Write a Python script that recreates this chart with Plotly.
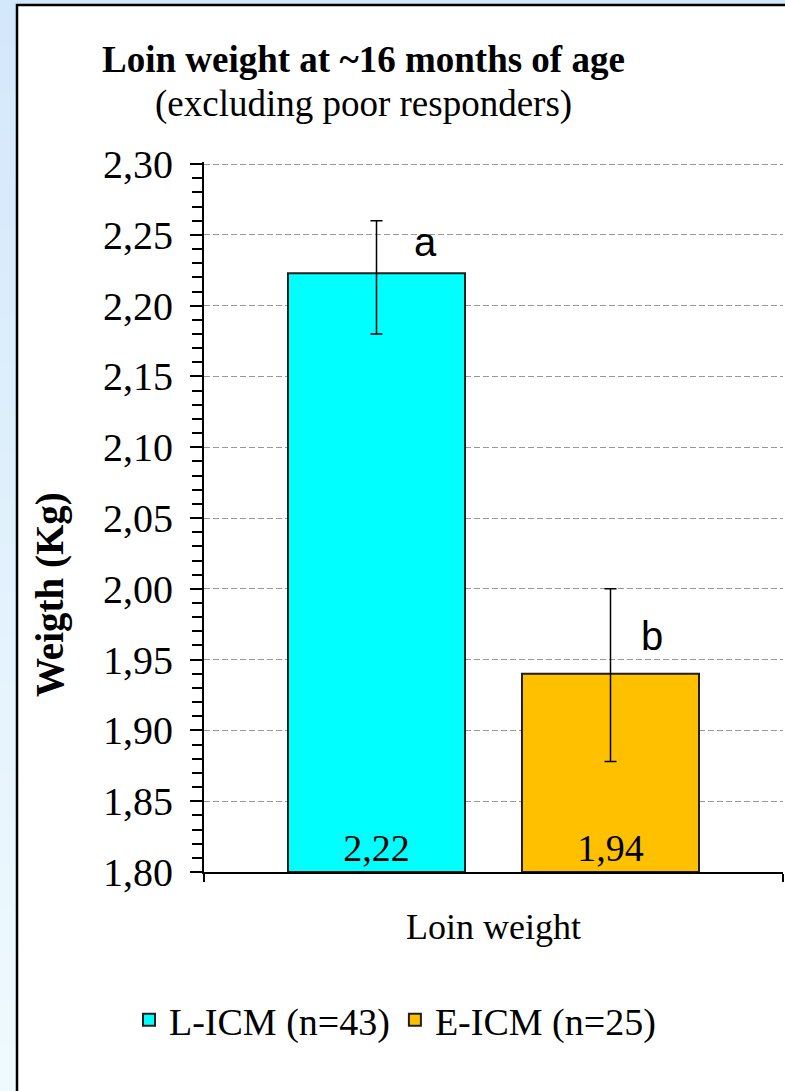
import plotly.graph_objects as go

# ---- data ----
categories = ["Loin weight"]
groups = ["L-ICM (n=43)", "E-ICM (n=25)"]
means_l = [2.223]
means_e = [1.940]
err_plus_l = [0.037]
err_minus_l = [0.043]
err_plus_e = [0.060]
err_minus_e = [0.062]
letters = ["a", "b"]
y_ticks = [1.80, 1.85, 1.90, 1.95, 2.00, 2.05, 2.10, 2.15, 2.20, 2.25, 2.30]
Y_MIN, Y_MAX = 1.80, 2.30
Y_TOP = 2.3015  # tiny headroom so the 2,30 gridline is drawn

SERIF = "Liberation Serif, Times New Roman, serif"
SANS = "Liberation Sans, Arial, sans-serif"

W, H = 785, 1091
L, R, T, B = 204, 2, 162, 219
PW, PH = W - L - R, H - T - B


def px2x(px):
    return (px - L) / PW


def px2y(py):
    return (H - B - py) / PH


def fmt(v):
    return f"{v:.2f}".replace(".", ",")


fig = go.Figure()

# bars start at the axis minimum (as in the original chart)
fig.add_trace(go.Bar(
    name=groups[0], x=categories, y=[v - Y_MIN for v in means_l], base=[Y_MIN] * len(means_l),
    marker=dict(color="#00FFFF", line=dict(color="#1f1f1f", width=2)),
    error_y=dict(type="data", symmetric=False, array=err_plus_l, arrayminus=err_minus_l,
                 color="black", thickness=1.5, width=6),
    text=[fmt(v) for v in means_l], textposition="inside", insidetextanchor="start",
    textfont=dict(family=SERIF, size=38, color="black"), textangle=0,
    hovertext=[fmt(v) for v in means_l], hoverinfo="text+name",
))
fig.add_trace(go.Bar(
    name=groups[1], x=categories, y=[v - Y_MIN for v in means_e], base=[Y_MIN] * len(means_e),
    marker=dict(color="#FFC000", line=dict(color="#1f1f1f", width=2)),
    error_y=dict(type="data", symmetric=False, array=err_plus_e, arrayminus=err_minus_e,
                 color="black", thickness=1.5, width=6),
    text=[fmt(v) for v in means_e], textposition="inside", insidetextanchor="start",
    textfont=dict(family=SERIF, size=38, color="black"), textangle=0,
    hovertext=[fmt(v) for v in means_e], hoverinfo="text+name",
))

# background: light blue gradient frame + white chart box
shapes = []
c0 = (0xD3, 0xE8, 0xFB)
c1 = (0xEF, 0xFA, 0xFE)
nb = 24
for i in range(nb):
    f = i / (nb - 1)
    col = "rgb(%d,%d,%d)" % tuple(round(a + (b - a) * f) for a, b in zip(c0, c1))
    y0 = i * H / nb
    y1 = (i + 1) * H / nb + 1
    shapes.append(dict(type="rect", xref="paper", yref="paper", layer="below",
                       x0=px2x(0), x1=px2x(W), y0=px2y(y1), y1=px2y(y0),
                       fillcolor=col, line=dict(width=0)))
shapes.append(dict(type="rect", xref="paper", yref="paper", layer="below",
                   x0=px2x(17), x1=px2x(W + 10), y0=px2y(H + 10), y1=px2y(5),
                   fillcolor="white", line=dict(color="black", width=2.5)))

annotations = [
    dict(text="<b>Loin weight at ~16 months of age</b>", xref="paper", yref="paper",
         x=px2x(363), y=px2y(60), xanchor="center", yanchor="middle", showarrow=False,
         font=dict(family=SERIF, size=37, color="black")),
    dict(text="(excluding poor responders)", xref="paper", yref="paper",
         x=px2x(363), y=px2y(104), xanchor="center", yanchor="middle", showarrow=False,
         font=dict(family=SERIF, size=37, color="black")),
    dict(text="<b>Weigth (Kg)</b>", textangle=-90, xref="paper", yref="paper",
         x=px2x(50), y=px2y(595), xanchor="center", yanchor="middle", showarrow=False,
         font=dict(family=SERIF, size=39, color="black")),
    dict(text=letters[0], xref="x", yref="y", x=categories[0], y=2.245, xshift=-68,
         showarrow=False, font=dict(family=SANS, size=40, color="black")),
    dict(text=letters[1], xref="x", yref="y", x=categories[0], y=1.967, xshift=158,
         showarrow=False, font=dict(family=SANS, size=40, color="black")),
]

fig.update_layout(
    width=W, height=H,
    margin=dict(l=L, r=R, t=T, b=B, pad=0),
    paper_bgcolor="#e0f0fc", plot_bgcolor="white",
    separators=", ",
    barmode="group", bargap=0.1917, bargroupgap=0.2436,
    font=dict(family=SERIF, size=36, color="black"),
    showlegend=True,
    legend=dict(orientation="h", x=px2x(395), y=px2y(1020), xanchor="center", yanchor="middle",
                font=dict(family=SERIF, size=38, color="black"), bgcolor="rgba(0,0,0,0)",
                traceorder="normal"),
    shapes=shapes, annotations=annotations,
    yaxis2=dict(overlaying="y", matches="y", side="left", anchor="x",
                range=[Y_MIN, Y_TOP], tickvals=y_ticks, ticks="inside", ticklen=9,
                tickwidth=2, tickcolor="black", showticklabels=False, showgrid=False,
                showline=False, zeroline=False),
)

fig.update_xaxes(type="category", range=[-0.5, 0.5], showline=True, linecolor="black", linewidth=2,
                 ticks="outside", tickson="boundaries", ticklen=8, tickwidth=2, tickcolor="black",
                 showgrid=False, ticklabelstandoff=22,
                 tickfont=dict(family=SERIF, size=36, color="black"))
fig.layout.yaxis.update(range=[Y_MIN, Y_TOP], tickvals=y_ticks, tickformat=".2f",
                        showline=True, linecolor="black", linewidth=2,
                        ticks="outside", ticklen=12, tickwidth=2, tickcolor="black",
                        minor=dict(dtick=0.01, tick0=Y_MIN, ticks="outside", ticklen=10, tickwidth=1.5,
                                   tickcolor="black", showgrid=False),
                        showgrid=True, gridcolor="#999999", griddash="6px,3px", gridwidth=1.3,
                        zeroline=False, ticklabelstandoff=9,
                        tickfont=dict(family=SERIF, size=40, color="black"))

fig.write_html("out.html", config={"displayModeBar": False},
               post_script="document.body.style.margin='0px';")
